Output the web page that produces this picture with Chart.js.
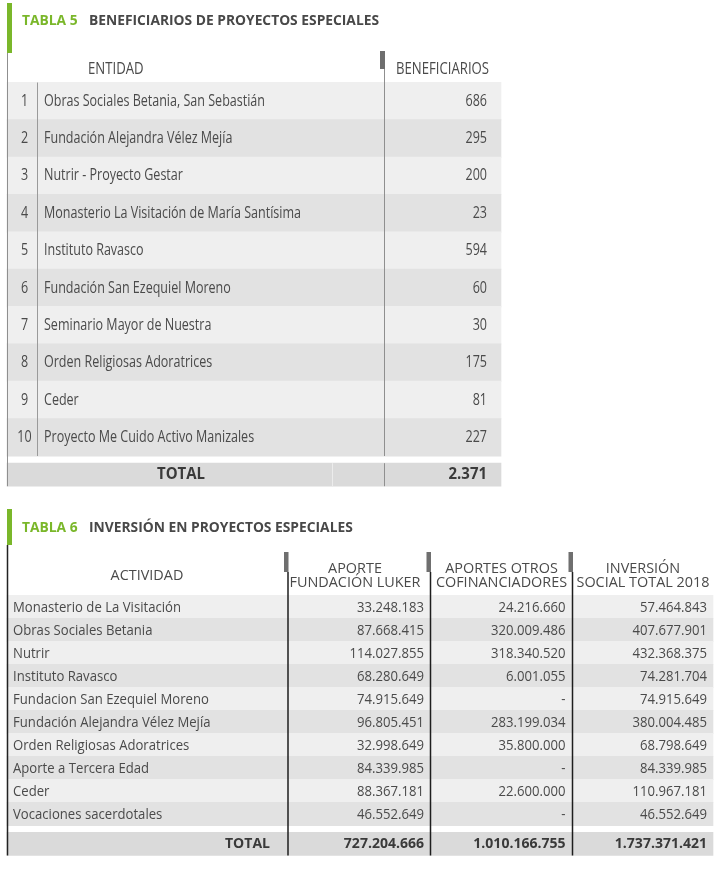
<!DOCTYPE html>
<html>
<head>
<meta charset="utf-8">
<script src="https://cdn.jsdelivr.net/npm/chart.js@4.4.0/dist/chart.umd.min.js"></script>
<style>
  html, body { margin: 0; padding: 0; background: #fff; }
  #wrap { position: relative; width: 715px; height: 890px; }
  .box { position: absolute; left: 0; width: 715px; }
  #box5 { top: 0; height: 500px; }
  #box6 { top: 500px; height: 390px; }
</style>
</head>
<body>
<div id="wrap">
  <div class="box" id="box5"><canvas id="tabla5" width="715" height="500"></canvas></div>
  <div class="box" id="box6"><canvas id="tabla6" width="715" height="390"></canvas></div>
</div>
<script>
// ---- Tabla 5: beneficiarios
const entidades = [
  'Obras Sociales Betania, San Sebastián',
  'Fundación Alejandra Vélez Mejía',
  'Nutrir - Proyecto Gestar',
  'Monasterio La Visitación de María Santísima',
  'Instituto Ravasco',
  'Fundación San Ezequiel Moreno',
  'Seminario Mayor de Nuestra',
  'Orden Religiosas Adoratrices',
  'Ceder',
  'Proyecto Me Cuido Activo Manizales'
];
const beneficiarios = [686, 295, 200, 23, 594, 60, 30, 175, 81, 227];

// ---- Tabla 6: inversion
const actividades = [
  'Monasterio de La Visitación',
  'Obras Sociales Betania',
  'Nutrir',
  'Instituto Ravasco',
  'Fundacion San Ezequiel Moreno',
  'Fundación Alejandra Vélez Mejía',
  'Orden Religiosas Adoratrices',
  'Aporte a Tercera Edad',
  'Ceder',
  'Vocaciones sacerdotales'
];
const aporteLuker = [33248183, 87668415, 114027855, 68280649, 74915649, 96805451, 32998649, 84339985, 88367181, 46552649];
const aportesOtros = [24216660, 320009486, 318340520, 6001055, null, 283199034, 35800000, null, 22600000, null];
const inversionTotal = [57464843, 407677901, 432368375, 74281704, 74915649, 380004485, 68798649, 84339985, 110967181, 46552649];
const headers6 = [['APORTE', 'FUNDACIÓN LUKER'], ['APORTES OTROS', 'COFINANCIADORES'], ['INVERSIÓN', 'SOCIAL TOTAL 2018']];

const FAMILY = "'Open Sans', 'Noto Sans', sans-serif";
const GREEN = '#7ab72a';
const TEXT = '#4a4a4a';
const DARK = '#3a3a3a';
const ROW_LIGHT = '#efefef';
const ROW_DARK = '#e2e2e2';
const ROW_TOTAL = '#dadada';

// the reference uses a condensed face: squeeze each font to a measured sample width
const measureCtx = document.createElement('canvas').getContext('2d');
function condensed(font, sample, width) {
  measureCtx.font = font;
  return { font, k: width / measureCtx.measureText(sample).width };
}
const F = {
  title: condensed('bold 15px ' + FAMILY, 'BENEFICIARIOS DE PROYECTOS ESPECIALES', 290),
  head5: condensed('16px ' + FAMILY, 'BENEFICIARIOS', 93),
  body5: condensed('16px ' + FAMILY, 'Obras Sociales Betania, San Sebastián', 221),
  bold5: condensed('bold 16px ' + FAMILY, 'TOTAL', 48),
  head6: condensed('15px ' + FAMILY, 'FUNDACIÓN LUKER', 131),
  body6: condensed('15px ' + FAMILY, 'Monasterio de La Visitación', 168),
  bold6: condensed('bold 15px ' + FAMILY, 'TOTAL', 45)
};

function fmt(n) {
  if (n === null || n === undefined) return '-';
  return String(n).replace(/\B(?=(\d{3})+(?!\d))/g, '.');
}
function sum(arr) { return arr.reduce((a, b) => a + (b || 0), 0); }

// y scale in "row units": row i sits at value i
function rowScale(firstCenter, step, height) {
  const min = -firstCenter / step;
  return { type: 'linear', display: false, reverse: true, offset: false, bounds: 'data', min, max: min + height / step };
}

function baseOptions(yScale) {
  return {
    indexAxis: 'y',
    responsive: false,
    animation: false,
    events: [],
    layout: { padding: 0 },
    plugins: { legend: { display: false }, tooltip: { enabled: false } },
    scales: {
      x: { type: 'linear', display: false, offset: false, min: 0, max: 715 },
      y: yScale
    }
  };
}

function text(ctx, str, x, y, align, f, color) {
  ctx.save();
  ctx.font = f.font;
  ctx.fillStyle = color || TEXT;
  ctx.textAlign = align;
  ctx.textBaseline = 'middle';
  ctx.translate(x, y);
  ctx.scale(f.k, 1);
  ctx.fillText(str, 0, 0);
  ctx.restore();
}
function vline(ctx, x, y0, y1, color, w) {
  ctx.strokeStyle = color;
  ctx.lineWidth = w;
  ctx.beginPath();
  ctx.moveTo(x, y0);
  ctx.lineTo(x, y1);
  ctx.stroke();
}

// ---------- Tabla 5 ----------
const T5 = { left: 7, right: 501, step: 37.35, first: 101.2 };
const totalPos5 = entidades.length;

new Chart(document.getElementById('tabla5'), {
  type: 'bar',
  data: {
    datasets: [
      {
        data: entidades.map((_, i) => ({ y: i, x: [T5.left, T5.right] })),
        backgroundColor: entidades.map((_, i) => i % 2 ? ROW_DARK : ROW_LIGHT),
        barThickness: T5.step + 0.4,
        grouped: false,
        borderWidth: 0
      },
      {
        data: [{ y: totalPos5, x: [T5.left, T5.right] }],
        backgroundColor: ROW_TOTAL,
        barThickness: 23,
        grouped: false,
        borderWidth: 0
      }
    ]
  },
  options: baseOptions(rowScale(T5.first, T5.step, 500)),
  plugins: [{
    id: 'tabla5Text',
    afterDatasetsDraw(chart) {
      const ctx = chart.ctx;
      const y = chart.scales.y;
      const rowTop = y.getPixelForValue(-0.5);
      const rowBot = y.getPixelForValue(entidades.length - 0.5);
      const totY = y.getPixelForValue(totalPos5);
      ctx.save();
      // title
      ctx.fillStyle = GREEN;
      ctx.fillRect(7, 3, 5, 50);
      text(ctx, 'TABLA 5', 22, 21, 'left', F.title, GREEN);
      text(ctx, 'BENEFICIARIOS DE PROYECTOS ESPECIALES', 89, 21, 'left', F.title, '#484848');
      // frame lines
      vline(ctx, 7.5, 53, totY + 11.5, '#8f8f8f', 1);
      ctx.fillStyle = '#6e6e6e';
      ctx.fillRect(380, 51, 5, 18);
      vline(ctx, 384.5, 69, rowBot, '#8f8f8f', 1);
      vline(ctx, 384.5, totY - 11.5, totY + 11.5, '#8f8f8f', 1);
      vline(ctx, 37.5, rowTop, rowBot, '#9a9a9a', 1);
      vline(ctx, 332.5, totY - 11.5, totY + 11.5, '#ececec', 1);
      // header
      text(ctx, 'ENTIDAD', 88, 69, 'left', F.head5);
      text(ctx, 'BENEFICIARIOS', 396, 69, 'left', F.head5);
      // rows
      entidades.forEach((name, i) => {
        const py = y.getPixelForValue(i);
        text(ctx, String(i + 1), 24.5, py, 'center', F.body5);
        text(ctx, name, 44, py, 'left', F.body5);
        text(ctx, fmt(beneficiarios[i]), 487, py, 'right', F.body5);
      });
      text(ctx, 'TOTAL', 181, totY, 'center', F.bold5, DARK);
      text(ctx, fmt(sum(beneficiarios)), 487, totY, 'right', F.bold5, DARK);
      ctx.restore();
    }
  }]
});

// ---------- Tabla 6 ----------
const T6 = { left: 7, right: 713, step: 23, first: 107, totalGap: 1.3 };
const totalPos6 = actividades.length - 1 + T6.totalGap;
const colRight = [424, 565.5, 707];
const colCenter = [355, 501.5, 643];
const colLine = [288, 430.5, 572.5];

new Chart(document.getElementById('tabla6'), {
  type: 'bar',
  data: {
    datasets: [
      {
        data: actividades.map((_, i) => ({ y: i, x: [T6.left, T6.right] })),
        backgroundColor: actividades.map((_, i) => i % 2 ? ROW_DARK : ROW_LIGHT),
        barThickness: T6.step + 0.4,
        grouped: false,
        borderWidth: 0
      },
      {
        data: [{ y: totalPos6, x: [T6.left, T6.right] }],
        backgroundColor: ROW_TOTAL,
        barThickness: 23,
        grouped: false,
        borderWidth: 0
      }
    ]
  },
  options: baseOptions(rowScale(T6.first, T6.step, 390)),
  plugins: [{
    id: 'tabla6Text',
    afterDatasetsDraw(chart) {
      const ctx = chart.ctx;
      const y = chart.scales.y;
      const totY = y.getPixelForValue(totalPos6);
      const bottom = totY + 11.5;
      ctx.save();
      // title
      ctx.fillStyle = GREEN;
      ctx.fillRect(7, 9, 5, 36);
      text(ctx, 'TABLA 6', 22, 28, 'left', F.title, GREEN);
      text(ctx, 'INVERSIÓN EN PROYECTOS ESPECIALES', 89, 28, 'left', F.title, '#484848');
      // frame lines
      vline(ctx, 7.5, 45, bottom, '#222', 1.5);
      colLine.forEach(x => {
        ctx.fillStyle = '#6f6f6f';
        ctx.fillRect(x - 4, 52, 4.5, 20);
        vline(ctx, x, 72, bottom, '#1e1e1e', 1.5);
      });
      // header
      text(ctx, 'ACTIVIDAD', 147, 76, 'center', F.head6);
      headers6.forEach((lines, c) => {
        text(ctx, lines[0], colCenter[c], 68.5, 'center', F.head6);
        text(ctx, lines[1], colCenter[c], 83, 'center', F.head6);
      });
      // rows
      actividades.forEach((name, i) => {
        const py = y.getPixelForValue(i) + 1;
        text(ctx, name, 13, py, 'left', F.body6);
        text(ctx, fmt(aporteLuker[i]), colRight[0], py, 'right', F.body6);
        text(ctx, fmt(aportesOtros[i]), colRight[1], py, 'right', F.body6);
        text(ctx, fmt(inversionTotal[i]), colRight[2], py, 'right', F.body6);
      });
      text(ctx, 'TOTAL', 270, totY, 'right', F.bold6, DARK);
      text(ctx, fmt(sum(aporteLuker)), colRight[0], totY, 'right', F.bold6, DARK);
      text(ctx, fmt(sum(aportesOtros)), colRight[1], totY, 'right', F.bold6, DARK);
      text(ctx, fmt(sum(inversionTotal)), colRight[2], totY, 'right', F.bold6, DARK);
      ctx.restore();
    }
  }]
});
</script>
</body>
</html>
